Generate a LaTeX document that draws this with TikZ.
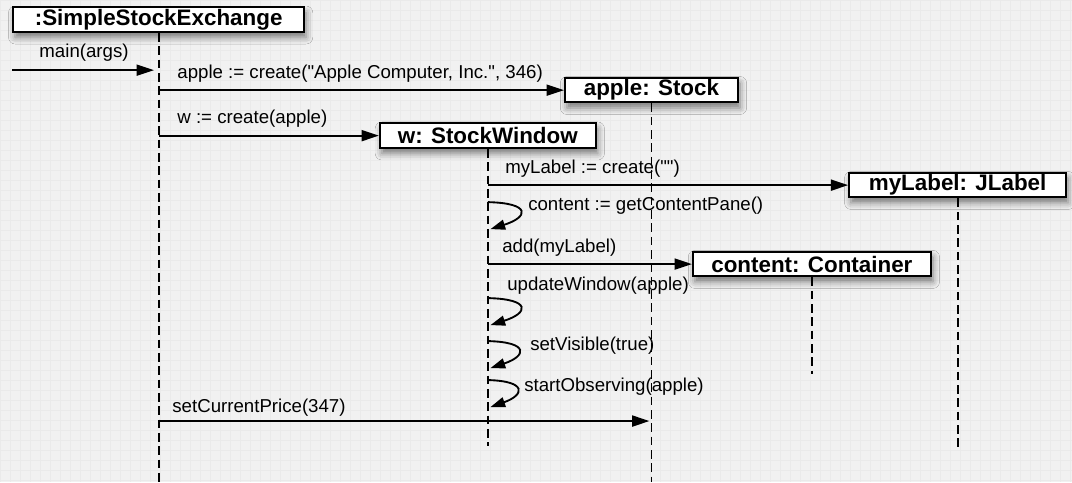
\documentclass[tikz,border=0pt]{standalone}
\usepackage{fontspec}
\setmainfont{Liberation Sans}
\usetikzlibrary{arrows.meta,shadows.blur}

\definecolor{paper}{HTML}{F1F1F1}
\definecolor{gridline}{HTML}{EAEAEA}

\begin{document}
\begin{tikzpicture}[x=0.75pt,y=-0.75pt,
  obj/.style={draw=black, line width=1.5pt, fill=white, inner sep=0pt,
    font=\bfseries\fontsize{16.8}{18}\selectfont, minimum height=18.5pt,
    blur shadow={shadow xshift=1.5pt, shadow yshift=-4pt,
      shadow blur radius=5pt, shadow opacity=50}},
  life/.style={line width=1.4pt, dash pattern=on 6.5pt off 3.5pt},
  msg/.style={line width=1.4pt, -{Triangle[length=13pt,width=8.25pt]}},
  selfmsg/.style={line width=1.4pt, -{Triangle[length=11pt,width=7.5pt]}},
  lbl/.style={font=\fontsize{14}{16}\selectfont, inner sep=0pt, anchor=base west},
]
% canvas with a faint grid
\fill[paper] (0,0) rectangle (1072,482);
\draw[gridline, line width=0.3pt, step=7.5pt] (0,0) grid (1072,482);
\useasboundingbox (0,0) rectangle (1072,482);

% objects
\node[obj, minimum width=218.25pt] (sse) at (158.5,19.5) {:SimpleStockExchange};
\node[obj, minimum width=129.75pt] (stock) at (651.5,90) {apple: Stock};
\node[obj, minimum width=162pt] (win) at (487.8,135.5) {w: StockWindow};
\node[obj, minimum width=162.75pt] (jlabel) at (957.8,185) {myLabel: JLabel};
\node[obj, minimum width=178.5pt] (cont) at (812,264) {content: Container};

% lifeline ends
\coordinate (sseEnd) at (sse.south |- 0,482);
\coordinate (stockEnd) at (stock.south |- 0,482);
\coordinate (winEnd) at (win.south |- 0,446);
\coordinate (jlabelEnd) at (jlabel.south |- 0,448);
\coordinate (contEnd) at (cont.south |- 0,374);

\draw[life] (sse.south) -- (sseEnd);
\draw[life] (stock.south) -- (stockEnd);
\draw[life] (win.south) -- (winEnd);
\draw[life] (jlabel.south) -- (jlabelEnd);
\draw[life] (cont.south) -- (contEnd);

% message end points on the lifelines
\coordinate (mainFrom) at (12,70);
\coordinate (mainTo) at (sse.south |- 0,70);
\coordinate (m1) at (sse.south |- 0,90);
\coordinate (m2) at (sse.south |- 0,135.5);
\coordinate (m3) at (win.south |- 0,185);
\coordinate (m5) at (win.south |- 0,264);
\coordinate (m9) at (sse.south |- 0,421);
\coordinate (m9to) at (stock.south |- 0,421);

% self calls on the window lifeline
\coordinate (s1a) at (win.south |- 0,202);
\coordinate (s1b) at (win.south |- 0,229);
\coordinate (s2a) at (win.south |- 0,298);
\coordinate (s2b) at (win.south |- 0,325);
\coordinate (s3a) at (win.south |- 0,341);
\coordinate (s3b) at (win.south |- 0,368);
\coordinate (s4a) at (win.south |- 0,380);
\coordinate (s4b) at (win.south |- 0,407);

% messages
\draw[msg, shorten >=3.5pt] (mainFrom) -- (mainTo);
\draw[msg] (m1) -- (stock.west);
\draw[msg] (m2) -- (win.west);
\draw[msg] (m3) -- (jlabel.west);
\draw[msg] (m5) -- (cont.west);
\draw[msg, shorten >=1.5pt] (m9) -- (m9to);

\draw[selfmsg] (s1a) .. controls ++(44,1) and ++(38,-12) .. ([xshift=2]s1b);
\draw[selfmsg] (s2a) .. controls ++(44,1) and ++(38,-12) .. ([xshift=2]s2b);
\draw[selfmsg] (s3a) .. controls ++(42,1) and ++(36,-12) .. ([xshift=2]s3b);
\draw[selfmsg] (s4a) .. controls ++(40,1) and ++(34,-12) .. ([xshift=2]s4b);

% message labels
\node[lbl] (l0) at (39,57) {main(args)};
\node[lbl] (l1) at (177,78.5) {apple := create(\textquotedbl Apple Computer, Inc.\textquotedbl, 346)};
\node[lbl] (l2) at (177,123) {w := create(apple)};
\node[lbl] (l3) at (505,173) {myLabel := create(\textquotedbl\textquotedbl)};
\node[lbl] (l4) at (528,210) {content := getContentPane()};
\node[lbl] (l5) at (502,252) {add(myLabel)};
\node[lbl] (l6) at (507,290) {updateWindow(apple)};
\node[lbl] (l7) at (530,350) {setVisible(true)};
\node[lbl] (l8) at (524,391) {startObserving(apple)};
\node[lbl] (l9) at (172,412) {setCurrentPrice(347)};
\end{tikzpicture}
\end{document}
